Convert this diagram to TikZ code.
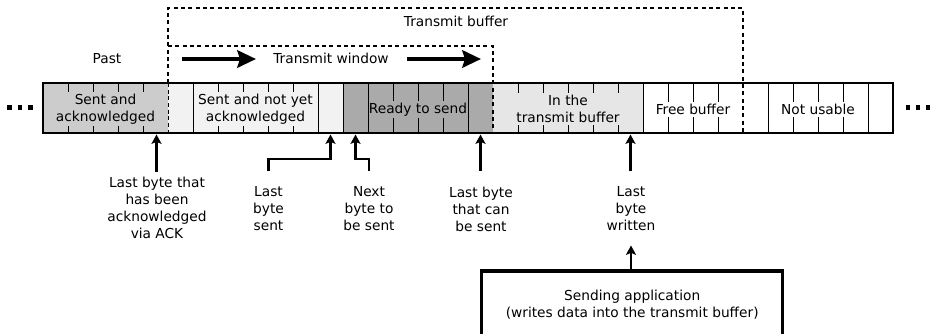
\documentclass[tikz,border=0pt]{standalone}
\usepackage{fontspec}
\setmainfont{DejaVu Sans}
\usetikzlibrary{arrows.meta}
\definecolor{cAck}{HTML}{CCCCCC}
\definecolor{cSent}{HTML}{F2F2F2}
\definecolor{cReady}{HTML}{AAAAAA}
\definecolor{cBuf}{HTML}{E6E6E6}
\begin{document}
\begin{tikzpicture}[x=0.75pt,y=-0.75pt,
  every node/.style={font=\fontsize{10.3}{12.75}\selectfont, align=center, inner sep=0pt},
  seglabel/.style={inner xsep=0pt, inner ysep=1.5pt},
  lbl/.style={anchor=north},
  cellline/.style={line width=0.75pt},
  barline/.style={line width=1.7pt},
  dashbox/.style={line width=1.5pt, dash pattern=on 3pt off 2.5pt},
  thindash/.style={line width=0.75pt, dash pattern=on 3pt off 2pt},
  sarrow/.style={line width=1.8pt, -{Stealth[width=7.5pt,length=7pt,inset=1.5pt]}},
  barrow/.style={line width=3.5pt, -{Stealth[width=13pt,length=14pt,inset=2pt]}},
  appbox/.style={draw, line width=2.5pt, minimum width=225.75pt, minimum height=50.25pt},
  dot/.style={fill=black}
]
\useasboundingbox (0,0) rectangle (931,333);

% segment fills
\fill[cAck]   (43,83) rectangle (168,133);
\fill[cSent]  (168,83) rectangle (343,133);
\fill[cReady] (343,83) rectangle (493,133);
\fill[cBuf]   (493,83) rectangle (643,133);

% cell separators
\foreach \x in {68,93,118,143,193,218,243,268,293,318,343,368,393,418,443,468,518,543,568,593,618,643,668,693,718,768,793,818,843,868}
  \draw[cellline] (\x,83) -- (\x,133);
\draw[thindash] (168,83) -- (168,133);

% segment texts
\node[seglabel, fill=cAck]   (tAck)   at (105.5,109) {Sent and\\acknowledged};
\node[seglabel, fill=cSent]  (tSent)  at (255.5,109) {Sent and not yet\\acknowledged};
\node[seglabel, fill=cReady] (tReady) at (418,109.5) {Ready to send};
\node[seglabel, fill=cBuf]   (tBuf)   at (568,109) {In the\\transmit buffer};
\node[seglabel, fill=white]  (tFree)  at (693,109.5) {Free buffer};
\node[seglabel, fill=white]  (tNot)   at (818,109.5) {Not usable};

% dashed boxes
\draw[dashbox] (168,83) -- (168,8) -- (743,8) -- (743,133);
\draw[dashbox] (168,46) -- (493,46) -- (493,133);

% bar outline
\draw[barline] (43,83) rectangle (893,133);

% dots
\foreach \x in {9.5,20,30.5,908,918,928}
  \fill[dot] (\x-2.3,105.2) rectangle (\x+2.3,109.8);

% top labels
\node (past) at (107,59) {Past};
\node (tbuf) at (456,21.7) {Transmit buffer};
\node (twin) at (331,58.5) {Transmit window};
\coordinate (w1s) at (182,59);
\coordinate (w1e) at (256,59);
\coordinate (w2s) at (407,59);
\coordinate (w2e) at (481,59);
\draw[barrow] (w1s) -- (w1e);
\draw[barrow] (w2s) -- (w2e);

% bottom labels
\node[lbl] (l1) at (157,177.2) {Last byte that\\has been\\acknowledged\\via ACK};
\node[lbl] (l2) at (268.5,186.3) {Last\\byte\\sent};
\node[lbl] (l3) at (369,186.3) {Next\\byte to\\be sent};
\node[lbl] (l4) at (481,186.3) {Last byte\\that can\\be sent};
\node[lbl] (l5) at (631,186.3) {Last\\byte\\written};

% arrow targets (bar bottom)
\coordinate (a1) at (156.5,134.5);
\coordinate (a2) at (330.5,134.5);
\coordinate (a3) at (355.5,134.5);
\coordinate (a4) at (480.5,134.5);
\coordinate (a5) at (630.5,134.5);
% arrow starts
\coordinate (s1) at (156.5,171.5);
\coordinate (s2) at (268.5,171);
\coordinate (k2) at (268.5,159);
\coordinate (s3) at (369,171);
\coordinate (k3) at (369,159);
\coordinate (s4) at (480.5,171);
\coordinate (s5) at (630.5,171);

\draw[sarrow] (s1) -- (a1);
\draw[sarrow] (s2) -- (k2) -| (a2);
\draw[sarrow] (s3) -- (k3) -| (a3);
\draw[sarrow] (s4) -- (a4);
\draw[sarrow] (s5) -- (a5);

% sending application
\node[appbox] (app) at (632.2,304.5) {Sending application\\(writes data into the transmit buffer)};
\coordinate (a6) at (631,245.5);
\draw[sarrow] (a6 |- app.north) -- (a6);
\end{tikzpicture}
\end{document}
